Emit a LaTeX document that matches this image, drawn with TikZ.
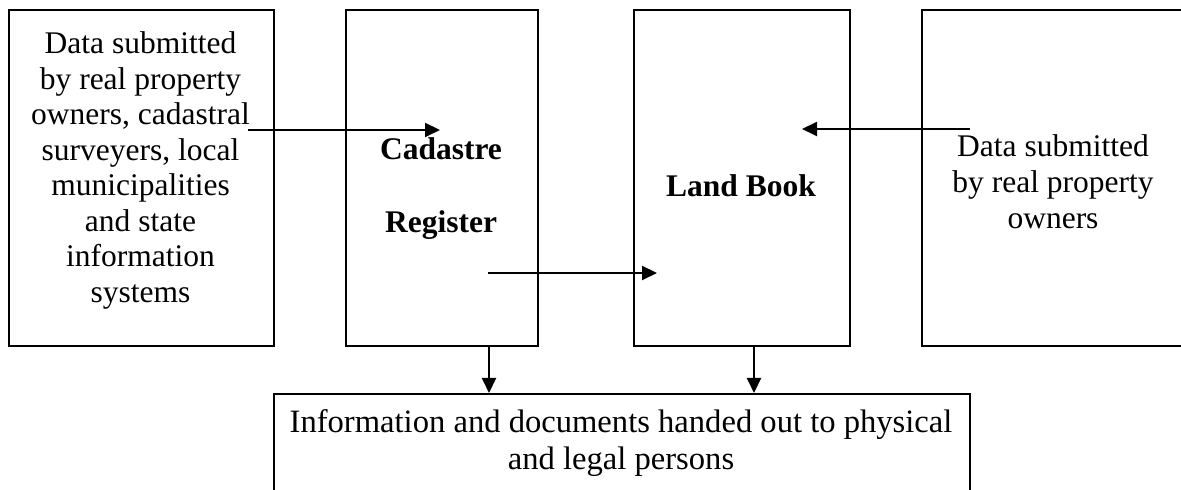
\documentclass[tikz,border=0pt]{standalone}
\usepackage{fontspec}
\setmainfont{Liberation Serif}
\usetikzlibrary{arrows.meta}
\begin{document}
\begin{tikzpicture}[x=0.5pt,y=-0.5pt,
  frame/.style={draw, line width=1pt, anchor=north west, inner sep=0pt, minimum height=168pt},
  % multi-line texts are placed by the baseline of their last line
  txt/.style={anchor=base, align=center, inner sep=0pt,
    font=\fontsize{15.75pt}{17.75pt}\selectfont},
  head/.style={anchor=base, align=center, inner sep=0pt,
    font=\fontsize{15.75pt}{17.75pt}\selectfont\bfseries},
  flow/.style={line width=1pt, -{Triangle[length=7.5pt,width=7pt]}}]
\clip (0,0) rectangle (1181,490);
\fill[white] (0,0) rectangle (1181,490);

% frames
\node[frame, minimum width=132.5pt] (src) at (8,9) {};
\node[frame, minimum width=96pt] (cad) at (345,9) {};
\node[frame, minimum width=108pt] (land) at (633,9) {};
\node[frame, minimum width=132pt] (own) at (921,9) {};
\node[frame, minimum width=348.25pt, minimum height=60pt] (out) at (272.5,393) {};

% texts
\node[txt] (srcText) at (140.5,302.5) {Data submitted\\by real property\\owners, cadastral\\surveyers, local\\municipalities\\and state\\information\\systems};
\node[head] (cadText) at (441,233) {Cadastre\\[18.75pt]Register};
\node[head] (landText) at (741,197) {Land Book};
\node[txt, font=\fontsize{15.75pt}{18pt}\selectfont] (ownText) at (1053,229) {Data submitted\\by real property\\owners};
\node[txt, font=\fontsize{16.3pt}{18.5pt}\selectfont] (outText) at (621,470) {Information and documents handed out to physical\\and legal persons};

% flows
\coordinate (srcFrom) at (248,130);
\coordinate (cadTo) at (440,130);
\coordinate (cadFrom) at (488,273);
\coordinate (landTo) at (657,273);
\coordinate (ownFrom) at (970,129);
\coordinate (landIn) at (802,129);
\draw[flow] (srcFrom) -- (cadTo);
\draw[flow] (cadFrom) -- (landTo);
\draw[flow] (ownFrom) -- (landIn);
\draw[flow] ([xshift=23.5pt]cad.south) coordinate (cadDrop) -- (cadDrop |- out.north);
\draw[flow] ([xshift=6pt]land.south) coordinate (landDrop) -- (landDrop |- out.north);
\end{tikzpicture}
\end{document}
